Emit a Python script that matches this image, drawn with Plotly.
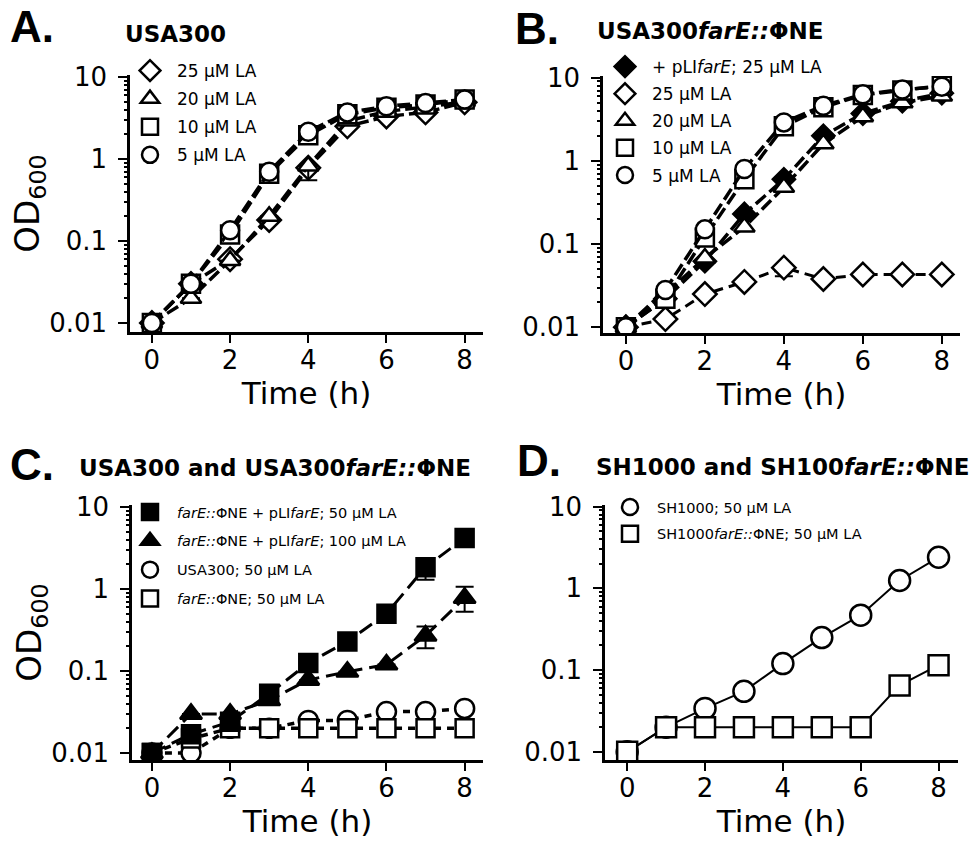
import plotly.graph_objects as go

# ---------------- data ----------------
hours = [0, 1, 2, 3, 4, 5, 6, 7, 8]
x_ticks = [0, 2, 4, 6, 8]
y_ticks = [0.01, 0.1, 1, 10]
y_ticklabels = ["0.01", "0.1", "1", "10"]

# Panel A: USA300
a_names = ["25 µM LA", "20 µM LA", "10 µM LA", "5 µM LA"]
a_25 = [0.01, 0.030, 0.060, 0.18, 0.78, 2.5, 3.3, 3.7, 4.9]
a_20 = [0.01, 0.020, 0.058, 0.20, 0.82, 2.9, 3.8, 4.3, 5.0]
a_10 = [0.01, 0.030, 0.120, 0.66, 1.95, 3.5, 4.2, 4.6, 5.3]
a_5 = [0.01, 0.030, 0.135, 0.70, 2.15, 3.7, 4.4, 4.8, 5.3]
a_20_err_minus = [0, 0, 0, 0, 0.27, 0, 0, 0, 0]

# Panel B: USA300farE::ΦNE
b_names = ["+ pLI<i>farE</i>; 25 µM LA", "25 µM LA", "20 µM LA", "10 µM LA", "5 µM LA"]
b_plus25 = [0.01, 0.022, 0.062, 0.23, 0.60, 2.0, 3.7, 5.2, 6.5]
b_25 = [0.01, 0.0125, 0.025, 0.035, 0.052, 0.038, 0.043, 0.043, 0.043]
b_20 = [0.01, 0.025, 0.068, 0.16, 0.48, 1.6, 3.4, 5.0, 6.0]
b_10 = [0.01, 0.022, 0.120, 0.60, 2.6, 4.4, 6.2, 7.0, 8.0]
b_5 = [0.01, 0.028, 0.150, 0.80, 2.9, 4.6, 6.3, 7.2, 7.8]
b_25_err_minus = [0, 0, 0, 0, 0.011, 0, 0, 0, 0]

# Panel C: USA300 and USA300farE::ΦNE
c_names = ["<i>farE::</i>ΦNE + pLI<i>farE</i>; 50 µM LA",
           "<i>farE::</i>ΦNE + pLI<i>farE</i>; 100 µM LA",
           "USA300; 50 µM LA",
           "<i>farE::</i>ΦNE; 50 µM LA"]
c_comp50 = [0.01, 0.017, 0.024, 0.053, 0.125, 0.23, 0.50, 1.85, 4.2]
c_comp100 = [0.01, 0.030, 0.030, 0.044, 0.078, 0.098, 0.12, 0.27, 0.78]
c_wt50 = [0.01, 0.010, 0.020, 0.020, 0.025, 0.025, 0.032, 0.032, 0.035]
c_mut50 = [0.01, 0.015, 0.020, 0.020, 0.020, 0.020, 0.020, 0.020, 0.020]
c_comp50_err_minus = [0, 0, 0, 0, 0, 0, 0, 0.55, 0]
c_comp100_err_plus = [0, 0, 0, 0, 0, 0, 0, 0.08, 0.29]
c_comp100_err_minus = [0, 0, 0, 0, 0, 0, 0, 0.08, 0.25]

# Panel D: SH1000 and SH1000farE::ΦNE
d_names = ["SH1000; 50 µM LA", "SH1000<i>farE::</i>ΦNE; 50 µM LA"]
d_wt = [0.01, 0.020, 0.034, 0.055, 0.12, 0.25, 0.47, 1.25, 2.4]
d_mut = [0.01, 0.020, 0.020, 0.020, 0.020, 0.020, 0.020, 0.065, 0.115]

# ---------------- helpers ----------------
W, H = 973, 842
FONT = "DejaVu Sans"


def px(x):
    return x / W


def py(y):
    return 1 - y / H


fig = go.Figure()


def add_series(xa, ya, y, symbol, filled, size, dash, lw, legend, name, rank,
               err_plus=None, err_minus=None):
    color = "black" if filled else "white"
    err = None
    if err_minus is not None or err_plus is not None:
        err = dict(type="data", symmetric=False,
                   array=err_plus if err_plus is not None else [0] * len(y),
                   arrayminus=err_minus if err_minus is not None else [0] * len(y),
                   color="black", thickness=2, width=9)
    fig.add_trace(go.Scatter(
        x=hours, y=y, xaxis=xa, yaxis=ya, mode="lines+markers",
        line=dict(color="black", width=lw, dash=dash),
        marker=dict(symbol=symbol, size=size, color=color,
                    line=dict(color="black", width=2.5)),
        error_y=err, showlegend=False, hoverinfo="x+y"))
    # legend entry (marker only)
    fig.add_trace(go.Scatter(
        x=[None], y=[None], xaxis=xa, yaxis=ya, mode="markers", name=name,
        legend=legend, legendgroup=legend + name, legendrank=rank, showlegend=True,
        marker=dict(symbol=symbol, size=size, color=color,
                    line=dict(color="black", width=2.5))))


DA = "13px,5px"
# Panel A
add_series("x", "y", a_25, "diamond", False, 18, DA, 3.5, "legend", a_names[0], 1)
add_series("x", "y", a_20, "triangle-up", False, 18, DA, 3.5, "legend", a_names[1], 2,
           err_minus=a_20_err_minus)
add_series("x", "y", a_10, "square", False, 18, DA, 3.5, "legend", a_names[2], 3)
add_series("x", "y", a_5, "circle", False, 18, DA, 3.5, "legend", a_names[3], 4)

# Panel B
add_series("x2", "y2", b_plus25, "diamond", True, 17, DA, 3.5, "legend2", b_names[0], 1)
add_series("x2", "y2", b_25, "diamond", False, 18, "10px,6px", 3, "legend2", b_names[1], 2,
           err_minus=b_25_err_minus)
add_series("x2", "y2", b_20, "triangle-up", False, 18, DA, 3.5, "legend2", b_names[2], 3)
add_series("x2", "y2", b_10, "square", False, 18, DA, 3.5, "legend2", b_names[3], 4)
add_series("x2", "y2", b_5, "circle", False, 18, DA, 3.5, "legend2", b_names[4], 5)

# Panel C
add_series("x3", "y3", c_wt50, "circle", False, 19, "7px,6px", 3.5, "legend3", c_names[2], 3)
add_series("x3", "y3", c_mut50, "square", False, 18, "7px,6px", 3.5, "legend3", c_names[3], 4)
add_series("x3", "y3", c_comp100, "triangle-up", True, 19, "15px,7px", 3, "legend3", c_names[1], 2,
           err_plus=c_comp100_err_plus, err_minus=c_comp100_err_minus)
add_series("x3", "y3", c_comp50, "square", True, 18, "15px,7px", 3, "legend3", c_names[0], 1,
           err_minus=c_comp50_err_minus)

# Panel D
add_series("x4", "y4", d_wt, "circle", False, 21, "solid", 2, "legend4", d_names[0], 1)
add_series("x4", "y4", d_mut, "square", False, 20, "solid", 2, "legend4", d_names[1], 2)

# ---------------- axes ----------------
minor_vals = [m * 10 ** e for e in (-2, -1, 0) for m in range(2, 10)]

panels = {
    # key: (x_px0, x_px1, x_range, y_px_top, y_px_bottom, y_range, show_ytitle)
    "1": (130, 483, [-0.56, 8.47], 75, 332, [-2.11, 1.024], True),
    "2": (603, 960, [-0.58, 8.46], 76, 333, [-2.07, 1.02], False),
    "3": (132, 483, [-0.51, 8.47], 505, 760, [-2.085, 1.025], True),
    "4": (605, 958, [-0.57, 8.50], 505, 760, [-2.10, 1.02], False),
}

layout_axes = {}
for k, (x0, x1, xr, yt, yb, yr, show_yt) in panels.items():
    sx = "" if k == "1" else k
    xname = "x" if k == "1" else "x" + k
    yname = "y" if k == "1" else "y" + k
    layout_axes["xaxis" + sx] = dict(
        domain=[px(x0), px(x1)], range=xr, anchor=yname, automargin=False,
        tickmode="array", tickvals=x_ticks, ticks="outside", ticklen=8, tickwidth=2,
        tickcolor="black", showline=True, linecolor="black", linewidth=2.5,
        showgrid=False, zeroline=False, ticklabelstandoff=-5,
        tickfont=dict(family=FONT, size=26, color="black"),
        title=dict(text="Time (h)", font=dict(family=FONT, size=31, color="black"),
                   standoff=0),
    )
    yax = dict(
        domain=[py(yb), py(yt)], range=yr, type="log", anchor=xname, automargin=False,
        tickmode="array", tickvals=y_ticks, ticktext=y_ticklabels,
        ticks="outside", ticklen=9, tickwidth=2, tickcolor="black",
        showline=True, linecolor="black", linewidth=2.5, showgrid=False,
        zeroline=False, ticklabelstandoff=6,
        tickfont=dict(family=FONT, size=26, color="black"),
    )
    if show_yt:
        yax["title"] = dict(text="OD<sub>600</sub>",
                            font=dict(family=FONT, size=34, color="black"), standoff=0)
    layout_axes["yaxis" + sx] = yax
    # overlay axis carrying the minor (log) ticks
    mk = str(int(k) + 4)
    layout_axes["yaxis" + mk] = dict(
        overlaying=yname, range=yr, type="log", anchor=xname, side="left",
        automargin=False, tickmode="array", tickvals=minor_vals, ticks="outside",
        ticklen=5, tickwidth=1.5, tickcolor="black", showticklabels=False,
        showline=False, showgrid=False, zeroline=False,
    )
    fig.add_trace(go.Scatter(x=[None], y=[None], xaxis=xname, yaxis="y" + mk,
                             showlegend=False, hoverinfo="skip"))

# ---------------- legends ----------------
def legend_cfg(x_px, y_px, size, gap):
    return dict(x=px(x_px), y=py(y_px), xanchor="left", yanchor="top",
                xref="paper", yref="paper", bgcolor="rgba(0,0,0,0)",
                borderwidth=0, itemwidth=44, traceorder="grouped",
                tracegroupgap=gap, itemclick=False, itemdoubleclick=False,
                font=dict(family=FONT, size=size, color="black"))


layout_legends = dict(
    legend=legend_cfg(123, 53, 17, 3),
    legend2=legend_cfg(598, 49, 17, 2),
    legend3=legend_cfg(123, 496, 14.5, 7),
    legend4=legend_cfg(603, 491, 14.5, 5),
)

# ---------------- panel labels & titles ----------------
annotations = []


def label(text, x_px, y_px, size, family):
    annotations.append(dict(text=text, x=px(x_px), y=py(y_px), xref="paper", yref="paper",
                            xanchor="left", yanchor="middle", showarrow=False,
                            font=dict(family=family, size=size, color="black")))


LET = "Liberation Sans"
label("<b>A.</b>", 8, 27, 44, LET)
label("<b>USA300</b>", 123, 34, 23, FONT)
label("<b>B.</b>", 513, 28, 44, LET)
label("<b>USA300<i>farE::</i>ΦNE</b>", 595, 31, 23, FONT)
label("<b>C.</b>", 8, 465, 44, LET)
label("<b>USA300 and USA300<i>farE::</i>ΦNE</b>", 77, 468, 23, FONT)
label("<b>D.</b>", 515, 460, 44, LET)
label("<b>SH1000 and SH100<i>farE::</i>ΦNE</b>", 594, 467, 23, FONT)

fig.update_layout(
    template="none",
    width=W, height=H, margin=dict(l=0, r=0, t=0, b=0, autoexpand=False),
    paper_bgcolor="white", plot_bgcolor="rgba(0,0,0,0)",
    font=dict(family=FONT, color="black"),
    annotations=annotations,
    **layout_axes, **layout_legends,
)

fig.write_html("out.html",
               config={"displayModeBar": False},
               post_script="document.body.style.margin='0';document.body.style.overflow='hidden';")
